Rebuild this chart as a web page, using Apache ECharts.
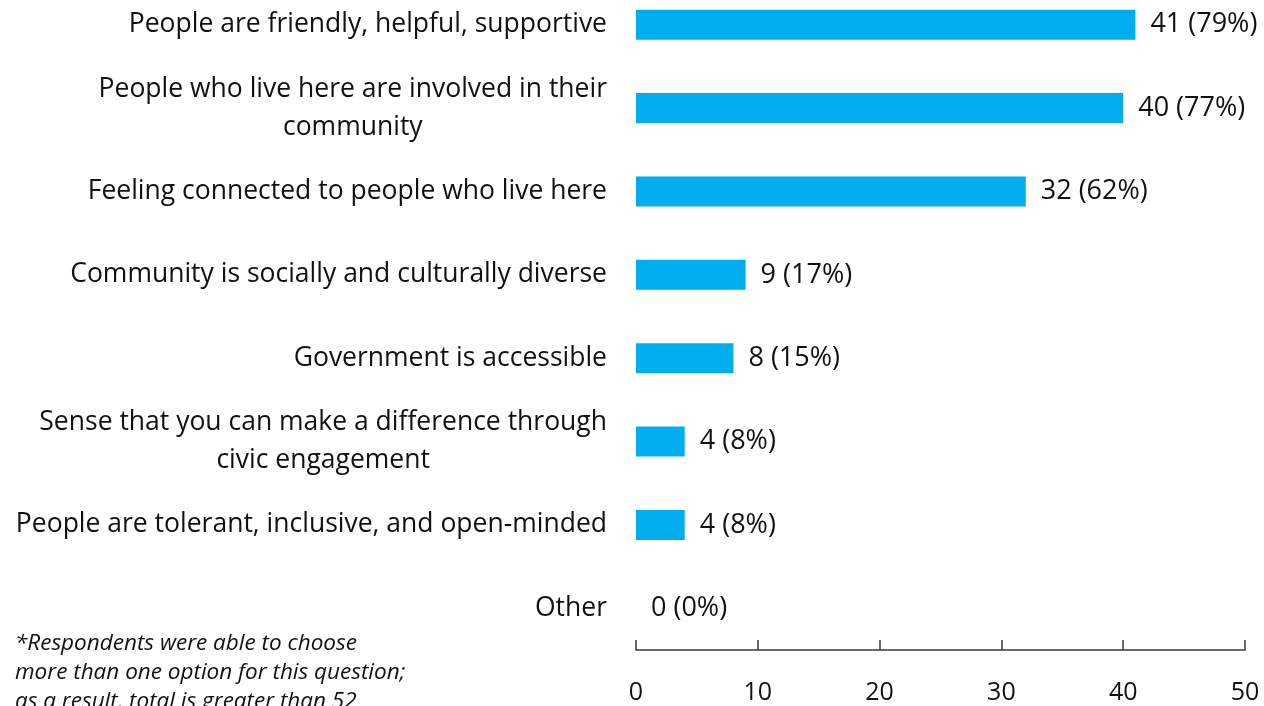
<!DOCTYPE html>
<html><head><meta charset="utf-8">
<script src="https://cdn.jsdelivr.net/npm/echarts@6/dist/echarts.min.js"></script>
<style>html,body{margin:0;padding:0;background:#fff;overflow:hidden}#c{width:1264px;height:723px;margin-top:-17px}</style>
</head><body><div id="c"></div>
<script>
const categories = [
  "People are friendly, helpful, supportive",
  "People who live here are involved in their\ncommunity",
  "Feeling connected to people who live here",
  "Community is socially and culturally diverse",
  "Government is accessible",
  "Sense that you can make a difference through\ncivic engagement",
  "People are tolerant, inclusive, and open-minded",
  "Other"
];
const values = [41, 40, 32, 9, 8, 4, 4, 0];
const percents = [79, 77, 62, 17, 15, 8, 8, 0];
const xTicks = [0, 10, 20, 30, 40, 50];
const footnote = [
  "*Respondents were able to choose",
  "more than one option for this question;",
  "as a result, total is greater than 52"
];

const FONT = 'Open Sans';
const chart = echarts.init(document.getElementById('c'));
chart.setOption({
  animation: false,
  grid: { left: 636, right: 19, top: 0, bottom: 56, containLabel: false },
  xAxis: {
    type: 'value', min: xTicks[0], max: xTicks[xTicks.length - 1], interval: 10,
    position: 'bottom',
    axisLine: { show: true, lineStyle: { color: '#3a3a3a', width: 1.5 } },
    axisTick: { show: true, inside: true, length: 10, lineStyle: { color: '#3a3a3a', width: 1.5 } },
    splitLine: { show: false },
    axisLabel: { margin: 30, color: '#111', fontFamily: FONT, fontSize: 25 }
  },
  yAxis: {
    type: 'category', inverse: true, data: categories,
    axisLine: { show: false }, axisTick: { show: false },
    axisLabel: {
      margin: 29, color: '#111', fontFamily: FONT, fontSize: 26.5, align: 'right',
      formatter: v => v.split('\n').map(l => '{a|' + l + '}').join('\n'),
      rich: { a: { align: 'center', fontFamily: FONT, fontSize: 26.5, color: '#111', lineHeight: 38 } }
    }
  },
  series: [{
    type: 'bar', data: values, barWidth: 30,
    itemStyle: { color: '#00AEEF' },
    label: {
      show: true, position: 'right', distance: 15, color: '#111', fontFamily: FONT, fontSize: 27,
      formatter: p => p.value + ' (' + percents[p.dataIndex] + '%)'
    }
  }],
  graphic: footnote.map((t, i) => ({
    type: 'text', left: 15, top: 17 + 632 + i * 29,
    style: { text: t, fontFamily: FONT, fontStyle: 'italic', fontSize: 22.5, fill: '#111' }
  }))
});
</script></body></html>
